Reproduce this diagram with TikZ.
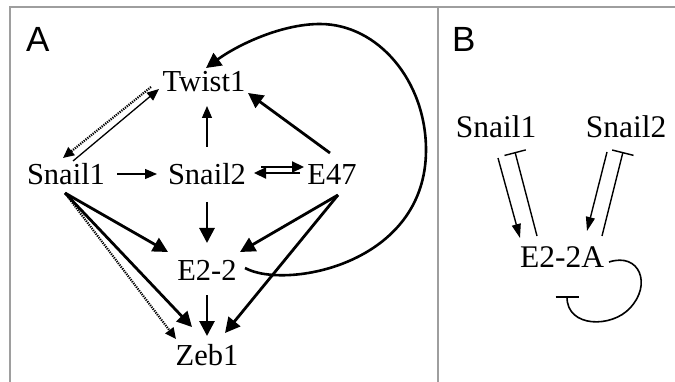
\documentclass[tikz,border=0pt]{standalone}
\usepackage{fontspec}
\setmainfont{Liberation Serif}
\newfontfamily\labelfont{Liberation Sans}
\usetikzlibrary{arrows.meta}
\begin{document}
\begin{tikzpicture}[x=1pt,y=-1pt,
  gene/.style={font=\fontsize{30.5}{36}\selectfont, inner sep=0pt, anchor=base},
  geneB/.style={font=\fontsize{31.5}{37}\selectfont, inner sep=0pt, anchor=base},
  panel/.style={font=\labelfont\fontsize{35}{40}\selectfont, inner sep=0pt, anchor=base west},
  frameline/.style={draw=black!38, line width=1.4pt},
  thickarr/.style={line width=2.8pt, -{Triangle[length=15pt,width=15pt]}},
  thinarr/.style={line width=1.3pt, -{Triangle[length=12pt,width=10pt]}},
  midarr/.style={line width=2.2pt, -{Triangle[length=12pt,width=11pt]}},
  dotarr/.style={line width=2.2pt, dash pattern=on 1.2pt off 1.1pt, -{Triangle[length=11pt,width=10pt]}},
  barr/.style={line width=1.4pt, -{Triangle[length=14pt,width=9pt]}},
  binh/.style={line width=1.4pt, -{Bar[width=22pt,line width=1.4pt]}},
]
\useasboundingbox (0,0) rectangle (675,382);
% frame
\draw[frameline] (10,382) -- (10,7) -- (675,7);
\draw[frameline] (438,7) -- (438,382);
% panel labels
\node[panel] (lblA) at (26,52) {A};
\node[panel] (lblB) at (452,52) {B};
% panel A nodes
\node[gene] (tw)  at (204,92)  {Twist1};
\node[gene] (s1)  at (66,185)  {Snail1};
\node[gene] (s2)  at (207,185) {Snail2};
\node[gene] (e47) at (332,185) {E47};
\node[gene] (e22) at (207,280) {E2-2};
\node[gene] (zeb) at (207,365) {Zeb1};
% panel A connectors
\draw[thinarr] ([shift={(7,-24)}]s1.base) -- ([shift={(-45,-3)}]tw.base);
\draw[dotarr]  ([shift={(-53,-5)}]tw.base) -- ([shift={(-3,-27)}]s1.base);
\draw[thinarr] ([shift={(0,-38)}]s2.base) -- ([shift={(3,14)}]tw.base);
\draw[thickarr] ([shift={(-2,-32)}]e47.base) -- ([shift={(44,1)}]tw.base);
\draw[thinarr] ([shift={(51,-11)}]s1.base) -- ([shift={(-50,-11)}]s2.base);
\draw[midarr] ([shift={(54,-18)}]s2.base) -- ([shift={(-28,-18)}]e47.base);
\draw[midarr] ([shift={(-32,-12)}]e47.base) -- ([shift={(47,-12)}]s2.base);
\draw[thickarr] ([shift={(-1,8)}]s1.base) -- ([shift={(-39,-28)}]e22.base);
\draw[thickarr] ([shift={(-1,8)}]s1.base) -- ([shift={(-15,-38)}]zeb.base);
\draw[dotarr] ([shift={(2,12)}]s1.base) -- ([shift={(-31,-26)}]zeb.base);
\draw[thickarr] ([shift={(0,17)}]s2.base) -- ([shift={(0,-37)}]e22.base);
\draw[thickarr] ([shift={(6,10)}]e47.base) -- ([shift={(33,-28)}]e22.base);
\draw[thickarr] ([shift={(6,10)}]e47.base) -- ([shift={(18,-32)}]zeb.base);
\draw[thickarr] ([shift={(0,15)}]e22.base) -- ([shift={(0,-29)}]zeb.base);
\draw[line width=2.6pt, -{Triangle[length=15pt,width=15pt]}]
  ([shift={(38,-12)}]e22.base) .. controls (285,290) and (426,265) .. (426,150)
  .. controls (426,81) and (378,24) .. (320,24)
  .. controls (280,24) and (236,46) .. ([shift={(2,-24)}]tw.base);
% panel B nodes
\node[geneB] (bs1) at (496,138) {Snail1};
\node[geneB] (bs2) at (626,138) {Snail2};
\node[geneB] (be)  at (562,268) {E2-2A};
% panel B connectors
\draw[barr] ([shift={(2,20)}]bs1.base) -- ([shift={(-42,-30)}]be.base);
\draw[binh] ([shift={(-25,-32)}]be.base) -- ([shift={(19,14)}]bs1.base);
\draw[barr] ([shift={(-19,14)}]bs2.base) -- ([shift={(25,-37)}]be.base);
\draw[binh] ([shift={(40,-32)}]be.base) -- ([shift={(-3,14)}]bs2.base);
\draw[line width=1.6pt, -{Bar[width=23pt,line width=1.6pt]}]
  ([shift={(47,-6)}]be.base) .. controls (640,252) and (652,285) .. (630,308)
  .. controls (612,328) and (567,328) .. ([shift={(5,28)}]be.base);
\end{tikzpicture}
\end{document}
